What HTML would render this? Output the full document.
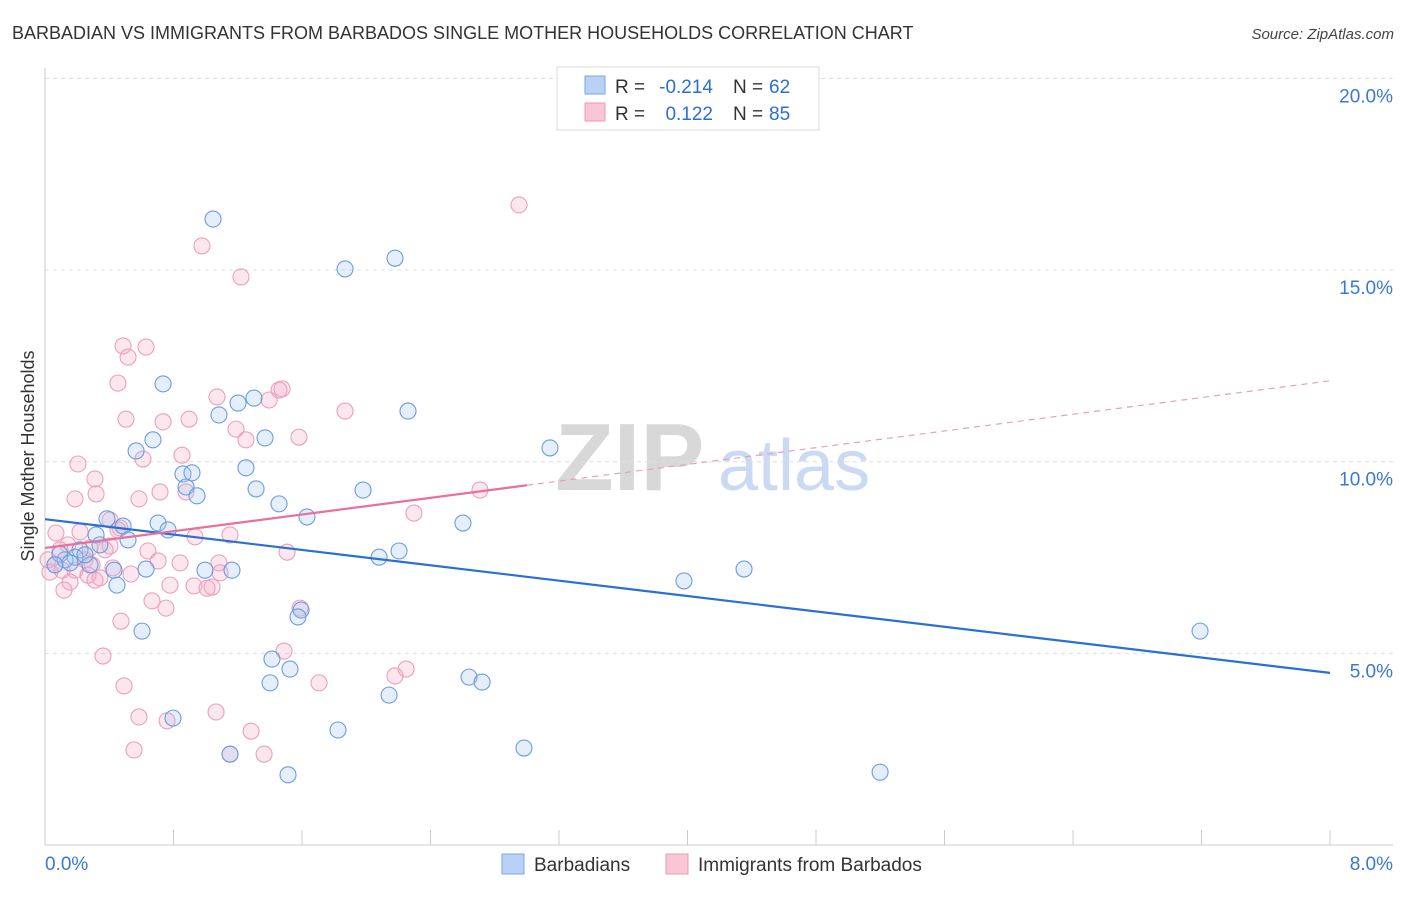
<!DOCTYPE html>
<html><head><meta charset="utf-8"><style>
body{margin:0;background:#fff;font-family:"Liberation Sans",sans-serif;}
svg text{font-family:"Liberation Sans",sans-serif;}
</style></head><body>
<svg id="chart" width="1406" height="892" xmlns="http://www.w3.org/2000/svg">
<text x="12" y="39" font-size="18" fill="#333">BARBADIAN VS IMMIGRANTS FROM BARBADOS SINGLE MOTHER HOUSEHOLDS CORRELATION CHART</text>
<text x="1394" y="39" font-size="15" fill="#444" text-anchor="end" font-style="italic">Source: ZipAtlas.com</text>
<text x="555" y="490" font-size="96" fill="#d8d8d8" font-family="Liberation Serif" font-weight="bold">ZIP</text>
<text x="718" y="490" font-size="72" fill="#c9daf2">atlas</text>
<g id="grid"></g>
<g id="axes"></g>
<g id="pts"></g>
<g id="trend"></g>
<text transform="translate(34,456) rotate(-90)" font-size="18" fill="#333" text-anchor="middle">Single Mother Households</text>
<g>
<rect x="557" y="67" width="262" height="63" fill="#fff" stroke="#ddd"/>
<rect x="585" y="76" width="20" height="18" fill="#b8d2f6" stroke="#7aa6e6"/>
<rect x="585" y="103" width="20" height="18" fill="#f9c6d6" stroke="#ec9ab6"/>
<text x="615" y="93" font-size="19" fill="#333">R =</text>
<text x="713" y="93" font-size="19" fill="#2a6fd6" text-anchor="end">-0.214</text>
<text x="733" y="93" font-size="19" fill="#333">N =</text>
<text x="769" y="93" font-size="19" fill="#2a6fd6">62</text>
<text x="615" y="120" font-size="19" fill="#333">R =</text>
<text x="713" y="120" font-size="19" fill="#2a6fd6" text-anchor="end">0.122</text>
<text x="733" y="120" font-size="19" fill="#333">N =</text>
<text x="769" y="120" font-size="19" fill="#2a6fd6">85</text>
</g>
<g>
<rect x="502" y="854" width="22" height="20" fill="#b8d2f6" stroke="#7aa6e6"/>
<text x="534" y="871" font-size="19" fill="#333">Barbadians</text>
<rect x="666" y="854" width="22" height="20" fill="#f9c6d6" stroke="#ec9ab6"/>
<text x="698" y="871" font-size="19" fill="#333">Immigrants from Barbados</text>
</g>
</svg>
<script>
const xTicks=[0,0.8,1.6,2.4,3.2,4,4.8,5.6,6.4,7.2,8];
const yTicks=[5,10,15,20];
const yTickLabels=["5.0%","10.0%","15.0%","20.0%"];
const xEndLabels=["0.0%","8.0%"];
const blueX=[1.046,1.868,2.179,0.735,1.202,1.301,1.083,2.260,0.672,1.370,0.567,3.144,0.859,0.915,1.251,0.878,0.946,1.314,1.457,1.980,1.631,2.602,0.386,0.486,0.704,0.766,0.318,0.517,0.218,0.187,0.125,0.093,0.156,0.280,0.430,0.629,0.996,1.164,2.080,2.204,3.978,4.352,0.448,0.604,7.191,1.594,1.575,1.413,1.525,1.401,2.640,2.721,2.142,0.797,1.824,2.982,1.152,1.513,5.199,0.062,0.249,0.342];
const blueY=[16.33,15.03,15.31,12.03,11.53,11.66,11.22,11.32,10.57,10.62,10.28,10.36,9.68,9.71,9.84,9.34,9.11,9.29,8.90,9.26,8.56,8.40,8.51,8.32,8.40,8.22,8.09,7.96,7.70,7.51,7.44,7.59,7.36,7.31,7.17,7.20,7.17,7.17,7.51,7.67,6.89,7.20,6.78,5.58,5.58,6.13,5.95,4.85,4.59,4.23,4.38,4.25,3.91,3.31,3.00,2.53,2.37,1.83,1.90,7.31,7.57,7.83];
const pinkX=[2.951,0.977,1.220,0.486,0.629,0.517,0.454,1.476,1.457,1.395,1.071,1.868,0.504,0.735,0.897,1.189,1.251,1.581,0.205,0.610,0.853,0.187,0.318,0.311,0.716,0.878,0.585,2.708,2.297,0.405,0.068,0.218,0.467,0.093,0.143,0.405,0.934,1.152,0.019,0.062,0.187,0.268,0.342,0.423,0.535,0.641,0.704,0.841,1.083,1.507,0.118,0.311,0.928,1.009,1.040,1.090,0.666,0.753,0.473,1.588,0.361,1.488,0.492,1.706,2.248,2.179,1.065,0.585,0.760,1.283,0.554,1.152,1.364,0.031,0.106,0.249,0.293,0.156,0.374,0.778,0.280,0.454];
const pinkY=[16.70,15.63,14.82,13.02,12.99,12.73,12.05,11.90,11.87,11.61,11.69,11.32,11.11,11.04,11.11,10.85,10.57,10.64,9.94,10.07,10.17,9.03,9.16,9.55,9.21,9.21,9.03,9.26,8.66,8.48,8.14,8.17,8.27,7.70,7.83,7.80,8.04,8.09,7.44,7.31,7.17,7.04,6.97,7.23,7.07,7.67,7.41,7.36,7.36,7.64,6.65,6.91,6.76,6.70,6.73,7.10,6.37,6.18,5.84,6.18,4.93,5.06,4.15,4.23,4.59,4.41,3.47,3.34,3.24,2.97,2.48,2.37,2.37,7.12,7.17,7.44,7.31,6.86,7.70,6.78,7.75,8.22];
const blueTrend=[8.50,4.49];
const pinkTrend=[7.75,12.11];
const pinkSolidEnd=3.0;
const X0=45,X1=1330,Y0=845,PPU=38.33;
const sx=v=>X0+v/8*(X1-X0);
const sy=v=>Y0-v*PPU;
const NS="http://www.w3.org/2000/svg";
function mk(tag,attrs,parent){const e=document.createElementNS(NS,tag);for(const k in attrs)e.setAttribute(k,attrs[k]);document.getElementById(parent).appendChild(e);return e;}
yTicks.forEach((t,i)=>{
 const l=mk('line',{x1:X0,x2:1393,y1:sy(t),y2:sy(t),stroke:'#ddd','stroke-dasharray':'4,4'},'grid');
 
 
 const tx=mk('text',{x:1393,y:sy(t)+24,'font-size':19,fill:'#3a78d4','text-anchor':'end'},'axes');
 tx.textContent=yTickLabels[i];
 
 
});
const ax=mk('line',{x1:X0,x2:1393,y1:Y0,y2:Y0,stroke:'#ccc'},'axes');


const ay=mk('line',{x1:X0,x2:X0,y1:68,y2:Y0,stroke:'#ccc'},'axes');


xTicks.forEach(t=>{
 const l=mk('line',{x1:sx(t),x2:sx(t),y1:Y0-15,y2:Y0,stroke:'#ccc'},'axes');
 
 
});
[[X0,'start',0],[1393,'end',1]].forEach(([x,a,i])=>{
 const t=mk('text',{x:x,y:870,'font-size':19,fill:'#3a78d4','text-anchor':a},'axes');
 t.textContent=xEndLabels[i];
 
 
});
pinkX.forEach((v,i)=>{
 const c=mk('circle',{cx:sx(v),cy:sy(pinkY[i]),r:8,fill:'rgba(244,170,198,0.28)',stroke:'#eaa0bc','stroke-width':1.1},'pts');
 
 
});
blueX.forEach((v,i)=>{
 const c=mk('circle',{cx:sx(v),cy:sy(blueY[i]),r:8,fill:'rgba(160,196,240,0.28)',stroke:'#6c9ce0','stroke-width':1.1},'pts');
 
 
});
const bl=mk('line',{x1:sx(0),y1:sy(blueTrend[0]),x2:sx(8),y2:sy(blueTrend[1]),stroke:'#2a6fd6','stroke-width':2.2},'trend');


const pm=pinkTrend[0]+(pinkTrend[1]-pinkTrend[0])*pinkSolidEnd/8;
const pl=mk('line',{x1:sx(0),y1:sy(pinkTrend[0]),x2:sx(pinkSolidEnd),y2:sy(pm),stroke:'#e8709a','stroke-width':2.2},'trend');


const pd=mk('line',{x1:sx(pinkSolidEnd),y1:sy(pm),x2:sx(8),y2:sy(pinkTrend[1]),stroke:'#e8a0b8','stroke-width':1.2,'stroke-dasharray':'6,5'},'trend');


</script>
</body></html>
